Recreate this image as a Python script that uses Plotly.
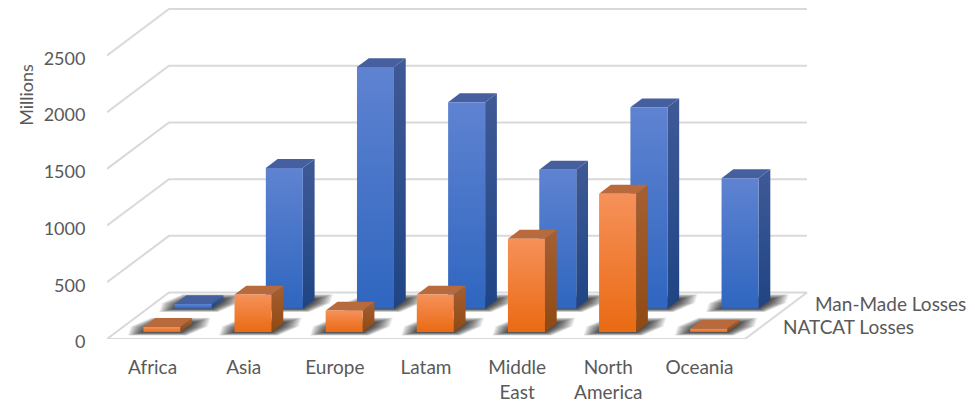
import plotly.graph_objects as go

categories = ["Africa", "Asia", "Europe", "Latam", "Middle<br>East", "North<br>America", "Oceania"]
natcat_losses = [45, 330, 190, 330, 823, 1220, 30]
man_made_losses = [40, 1240, 2130, 1820, 1225, 1775, 1150]
value_ticks = [0, 500, 1000, 1500, 2000, 2500]
series_names = ["NATCAT Losses", "Man-Made Losses"]

W, H = 975, 403
ML, MB = 107, 63.5
SLOT_PX = 638 / 7
PX_PER_VALUE = 56.8 / 500
DEPTH_DX_PX = 62
DEPTH_DY_PX = 46.5
BAR_HALF = 0.203
BAR_DEPTH = 0.19
FONT = "Lato"
TEXT = "#595959"

dx = DEPTH_DX_PX / SLOT_PX
dy = DEPTH_DY_PX / PX_PER_VALUE


def proj(slot, depth, value):
    return slot + depth * dx, value + depth * dy


def poly(points, **kw):
    xs, ys = zip(*[proj(*p) for p in points])
    return go.Scatter(x=list(xs) + [xs[0]], y=list(ys) + [ys[0]], mode="none", fill="toself",
                      hoverinfo="skip", showlegend=False, cliponaxis=False, **kw)


def grad(low, high):
    return dict(type="vertical", colorscale=[[0, low], [1, high]])


fig = go.Figure()

# wall and side grid, floor
gx, gy = [], []
for v in value_ticks[1:]:
    for p in [(-0.5, 0, v), (-0.5, 1, v), (6.5, 1, v)]:
        a, b = proj(*p)
        gx.append(a)
        gy.append(b)
    gx.append(None)
    gy.append(None)
for p in [(-0.5, 0, 0), (-0.5, 1, 0), (6.5, 1, 0), (6.5, 0, 0), (-0.5, 0, 0)]:
    a, b = proj(*p)
    gx.append(a)
    gy.append(b)
fig.add_trace(go.Scatter(x=gx, y=gy, mode="lines", line=dict(color="#d9d9d9", width=2),
                         hoverinfo="skip", showlegend=False, cliponaxis=False))


def shadow(i, d0):
    steps = 14
    for k in range(steps):
        t = 1 - k / (steps - 1)
        ex = (1 + 19 * t) / SLOT_PX
        ed = (0.01 + 0.11 * t)
        cut = ex * 0.45
        d1 = d0 - ed * 0.6
        d2 = d0 + BAR_DEPTH + ed
        pts = [(i - BAR_HALF - ex + cut, d1, 0), (i + BAR_HALF + ex - cut, d1, 0),
               (i + BAR_HALF + ex, (d1 + d2) / 2, 0), (i + BAR_HALF + ex - cut, d2, 0),
               (i - BAR_HALF - ex + cut, d2, 0), (i - BAR_HALF - ex, (d1 + d2) / 2, 0)]
        fig.add_trace(poly(pts, fillcolor="rgba(0,0,0,0.08)"))


def bar(i, v, d0, front, side, top):
    l, r = i - BAR_HALF, i + BAR_HALF
    d1 = d0 + BAR_DEPTH
    fig.add_trace(poly([(r, d0, 0), (r, d1, 0), (r, d1, v), (r, d0, v)], fillgradient=grad(*side)))
    fig.add_trace(poly([(l, d0, v), (r, d0, v), (r, d1, v), (l, d1, v)], fillcolor=top))
    fig.add_trace(poly([(l, d0, 0), (r, d0, 0), (r, d0, v), (l, d0, v)], fillgradient=grad(*front)))


BLUE = dict(front=("#2f66c0", "#5f83d1"), side=("#1f4484", "#3f5a96"), top="#46609f")
ORANGE = dict(front=("#ea6a13", "#f6915a"), side=("#8f4a12", "#a55f32"), top="#b86a3d")

DEPTH_BLUE, DEPTH_ORANGE = 0.655, 0.15
for i in range(len(categories)):
    shadow(i, DEPTH_BLUE)
for i, v in enumerate(man_made_losses):
    bar(i, v, DEPTH_BLUE, **BLUE)
for i in range(len(categories)):
    shadow(i, DEPTH_ORANGE)
for i, v in enumerate(natcat_losses):
    bar(i, v, DEPTH_ORANGE, **ORANGE)

font = dict(family=FONT, size=19, color=TEXT)
digit_font = dict(family=FONT, size=18, color=TEXT)
annotations = []
for name, d0 in zip(series_names, [DEPTH_ORANGE, DEPTH_BLUE]):
    a, b = proj(6.5, d0 + BAR_DEPTH / 2, 0)
    annotations.append(dict(x=a, y=b, xref="x", yref="y", text=name, showarrow=False, xanchor="left",
                            yanchor="middle", xshift=21, yshift=1, font=font))
annotations.append(dict(x=(26 - ML) / (W - ML), y=(H - MB - 95) / (H - MB), xref="paper", yref="paper",
                        text="Millions", showarrow=False, textangle=-90, xanchor="center", yanchor="middle",
                        font=dict(family=FONT, size=18, color=TEXT)))

fig.update_layout(
    width=W, height=H, margin=dict(l=ML, r=0, t=0, b=MB), paper_bgcolor="white", plot_bgcolor="white",
    showlegend=False, annotations=annotations,
    xaxis=dict(range=[-0.5, -0.5 + (W - ML) / SLOT_PX], tickvals=list(range(len(categories))), ticktext=categories,
               showgrid=False, zeroline=False, showline=False, ticks="outside", ticklen=11,
               tickcolor="rgba(0,0,0,0)", tickfont=font, tickangle=0),
    yaxis=dict(range=[0, (H - MB) / PX_PER_VALUE], tickvals=value_ticks, ticktext=[str(v) for v in value_ticks],
               showgrid=False, zeroline=False, showline=False, ticks="outside", ticklen=17, ticklabelshift=3,
               tickcolor="rgba(0,0,0,0)", tickfont=digit_font),
)
fig.write_html("out.html", config=dict(displayModeBar=False),
               post_script="document.body.style.margin='0';document.body.style.overflow='hidden';")
